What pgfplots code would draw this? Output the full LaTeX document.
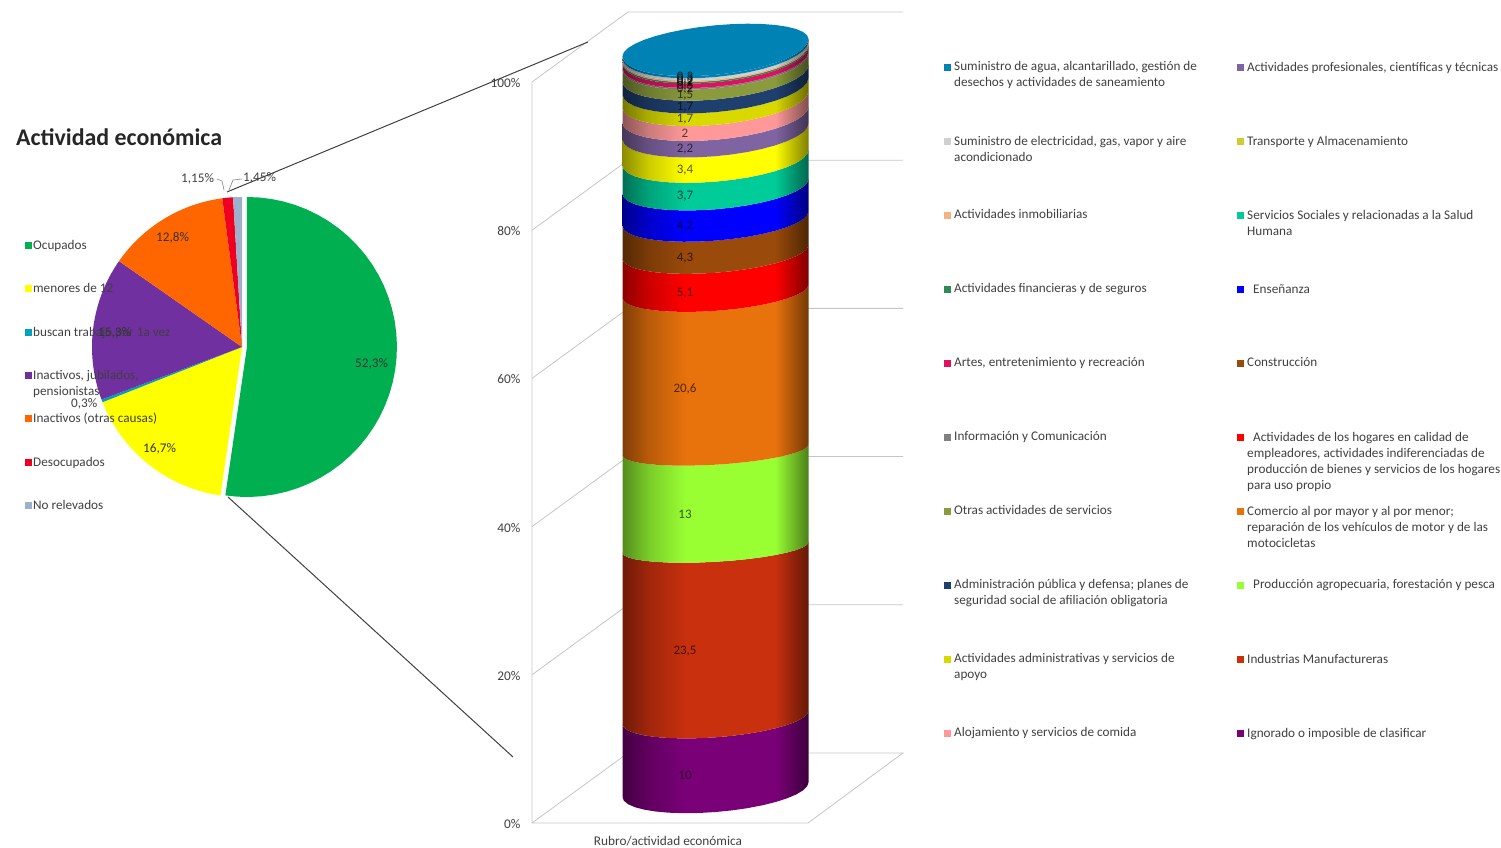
\documentclass[border=0pt]{standalone}
\usepackage{fontspec}
\setmainfont{Carlito}
\usepackage{pgfplots}
\usepackage{pgfplotstable}
\pgfplotsset{compat=1.18}
\definecolor{c0}{HTML}{7A0078}\definecolor{c1}{HTML}{C8300E}\definecolor{c2}{HTML}{99FF33}
\definecolor{c3}{HTML}{E8720C}\definecolor{c4}{HTML}{FF0000}\definecolor{c5}{HTML}{9A4A0A}
\definecolor{c6}{HTML}{0000FF}\definecolor{c7}{HTML}{00CC99}\definecolor{c8}{HTML}{FFFF00}
\definecolor{c9}{HTML}{8064A2}\definecolor{c10}{HTML}{FF9999}\definecolor{c11}{HTML}{D9D900}
\definecolor{c12}{HTML}{1F3F6F}\definecolor{c13}{HTML}{8A9A3C}\definecolor{c14}{HTML}{808080}
\definecolor{c15}{HTML}{E0115F}\definecolor{c16}{HTML}{2E8B57}\definecolor{c17}{HTML}{F4B183}
\definecolor{c18}{HTML}{D0D0D0}\definecolor{c19}{HTML}{0082B4}
\definecolor{p0}{HTML}{00B050}\definecolor{p1}{HTML}{FFFF00}\definecolor{p2}{HTML}{00A0C0}
\definecolor{p3}{HTML}{7030A0}\definecolor{p4}{HTML}{FF6600}\definecolor{p5}{HTML}{F00020}
\definecolor{p6}{HTML}{9DB0CC}
\definecolor{txt}{HTML}{404040}
\colorlet{cband}{red}
\pgfdeclarehorizontalshading[cband]{cyl}{100bp}{color(0bp)=(cband!55!black); color(25bp)=(cband!55!black); color(32bp)=(cband!80!black); color(42bp)=(cband); color(66bp)=(cband); color(75bp)=(cband!50!black); color(100bp)=(cband!50!black)}
% ---- data: stacked column (bottom to top)
\pgfplotstableread{
val lab
10   10
23.5 23,5
13   13
20.6 20,6
5.1  5,1
4.3  4,3
4.2  4,2
3.7  3,7
3.4  3,4
2.2  2,2
2    2
1.7  1,7
1.7  1,7
1.5  1,5
0.2  0,2
0.6  0,6
0.2  0,2
0.2  0,2
0.3  0,3
0.3  0,3
}\bands
\pgfplotstablecreatecol[create col/expr accum={\pgfmathaccuma+\thisrow{val}}{0}]{top}\bands
\pgfplotstablecreatecol[create col/expr={\thisrow{top}-\thisrow{val}}]{base}\bands
\pgfplotstablecreatecol[create col/expr={\thisrow{top}-0.5*\thisrow{val}}]{mid}\bands
% ---- data: pie, clockwise from the top
\pgfplotstableread{
val
52.3
16.7
0.3
15.4
13.2
1.15
0.95
}\slices
\pgfplotstablecreatecol[create col/expr accum={\pgfmathaccuma+\thisrow{val}}{0}]{top}\slices
\pgfplotstablecreatecol[create col/expr={\thisrow{top}-\thisrow{val}}]{base}\slices
% ---- shape outlines
\pgfplotstableset{
 create on use/t/.style={create col/expr={\pgfplotstablerow<=18 ? 10*\pgfplotstablerow : 10*(\pgfplotstablerow-1)}},
 create on use/up/.style={create col/expr={\pgfplotstablerow<=18 ? 1 : 0}},
 create on use/r/.style={create col/expr={\pgfplotstablerow==0 ? 0 : 1}},
 create on use/f/.style={create col/expr={\pgfplotstablerow==0 ? 0 : (\pgfplotstablerow-1)/40}},
}
\pgfplotstablenew[columns={t,up}]{38}\outline
\pgfplotstablenew[columns={r,f}]{42}\sweep
\newcommand\mk[3]{\addplot[only marks,mark=square*,mark size=3pt,mark options={fill=#1,draw=#1}] coordinates {(#2,#3)};}
\newcommand\tx[4][]{\node[anchor=north west,inner sep=0pt,align=left,text=txt,font=\fontsize{13.2}{16}\selectfont,#1] at (axis cs:#2,#3-5) {#4};}
\begin{document}
\begin{tikzpicture}
\useasboundingbox (0pt,0pt) rectangle (1501pt,848pt);
% ---------------- cylinder
\begin{axis}[
  at={(532pt,25pt)},anchor=south west,scale only axis,width=371pt,height=811pt,
  xmin=532,xmax=903,ymin=0,ymax=109.447,clip=false,
  axis line style={draw=none},major tick style={draw=none},
  xtick={668},xticklabels={Rubro/actividad económica},
  ytick={0,20,40,60,80,100},yticklabels={0\%,20\%,40\%,60\%,80\%,100\%},
  tick label style={font=\fontsize{13.3}{15}\selectfont,text=txt},
  yticklabel style={xshift=-8pt,yshift=-1pt},
  xticklabel style={yshift=-10pt},
]
\addplot[gray!45,line width=.8pt] coordinates {(532,100)(532,0)(808,0)(903,9.45)(628,9.45)(532,0)};
\addplot[gray!45,line width=.8pt] coordinates {(532,20)(628,29.45)(903,29.45)};
\addplot[gray!45,line width=.8pt] coordinates {(532,40)(628,49.45)(903,49.45)};
\addplot[gray!45,line width=.8pt] coordinates {(532,60)(628,69.45)(903,69.45)};
\addplot[gray!45,line width=.8pt] coordinates {(532,80)(628,89.45)(903,89.45)};
\addplot[gray!45,line width=.8pt] coordinates {(532,100)(628,109.45)(903,109.45)};
\pgfplotsforeachungrouped \i in {0,...,19}{
  \pgfplotstablegetelem{\i}{top}\of\bands\let\ytop\pgfplotsretval
  \pgfplotstablegetelem{\i}{base}\of\bands\let\ybase\pgfplotsretval
  \pgfmathsetmacro\bt{1.754+0.0323*abs(\ytop-39)}
  \pgfmathsetmacro\kt{0.675+0.00806*abs(\ytop-39)}
  \pgfmathsetmacro\bb{1.754+0.0323*abs(\ybase-39)}
  \pgfmathsetmacro\kb{0.675+0.00806*abs(\ybase-39)}
  \edef\tmp{\noexpand\addplot[draw=none,/utils/exec={\noexpand\colorlet{cband}{c\i}},shade,shading=cyl]
    table[x expr={715.5+93*cos(\noexpand\thisrow{t})},
          y expr={1.48+\noexpand\thisrow{up}*(1.008*\ytop+\bt*(1-abs(sin(\noexpand\thisrow{t})))+\kt*cos(\noexpand\thisrow{t}))+(1-\noexpand\thisrow{up})*(1.008*\ybase+\bb*(1-abs(sin(\noexpand\thisrow{t})))+\kb*cos(\noexpand\thisrow{t}))}]
    {\noexpand\outline} -- cycle;}
  \tmp
}
\pgfplotstablegetelem{19}{top}\of\bands\let\ytop\pgfplotsretval
\pgfmathsetmacro\bt{1.754+0.0323*abs(\ytop-39)}
\pgfmathsetmacro\kt{0.675+0.00806*abs(\ytop-39)}
\edef\tmp{\noexpand\addplot[draw=none,fill=c19]
  table[x expr={715.5+93*cos(\noexpand\thisrow{t})},
        y expr={1.48+1.008*\ytop+\bt+\kt*cos(\noexpand\thisrow{t})+(\noexpand\thisrow{t}<=180 ? 3.0 : \bt)*sin(\noexpand\thisrow{t})}]
  {\noexpand\outline} -- cycle;}
\tmp
\addplot[only marks,mark=none,point meta=explicit symbolic,nodes near coords,
  nodes near coords align={anchor=center},
  every node near coord/.append style={anchor=center,inner sep=0pt,font=\fontsize{13}{15}\selectfont,text=black,text opacity=.65}]
  table[x expr=685,y expr={1.33+1.008*\thisrow{mid}},meta=lab]{\bands};
\end{axis}
% ---------------- pie
\begin{axis}[
  at={(77pt,336pt)},anchor=south west,scale only axis,width=330pt,height=330pt,
  xmin=-1.1,xmax=1.1,ymin=-1.1,ymax=1.1,hide axis,clip=false]
\pgfplotsforeachungrouped \i in {0,...,6}{
  \pgfplotstablegetelem{\i}{top}\of\slices\let\ptop\pgfplotsretval
  \pgfplotstablegetelem{\i}{base}\of\slices\let\pbase\pgfplotsretval
  \ifnum\i=0 \def\dx{0.033}\else\def\dx{0}\fi
  \edef\tmp{\noexpand\addplot[draw=none,fill=p\i]
    table[x expr={\dx+\noexpand\thisrow{r}*cos(90-3.6*(\pbase+(\ptop-\pbase)*\noexpand\thisrow{f}))},
          y expr={\noexpand\thisrow{r}*sin(90-3.6*(\pbase+(\ptop-\pbase)*\noexpand\thisrow{f}))}]
    {\noexpand\sweep} -- cycle;}
  \tmp
}
\end{axis}
% ---------------- text, legends, connectors (picture pixels)
\begin{axis}[
  at={(0pt,0pt)},anchor=south west,scale only axis,width=1501pt,height=848pt,
  xmin=0,xmax=1501,ymin=0,ymax=848,y dir=reverse,hide axis,clip=false]
\addplot[color=txt,line width=1pt] coordinates {(227,192)(588,42)};
\addplot[color=txt,line width=1pt] coordinates {(228,497)(513,757)};
\addplot[gray,line width=.6pt] coordinates {(217,179)(222,181)(224,190)};
\addplot[gray,line width=.6pt] coordinates {(229,190)(233,180)(242,179)};
% title
\node[anchor=west,inner sep=0pt,font=\fontsize{23.9}{26}\selectfont\bfseries,text=black!85] at (axis cs:16,137) {Actividad económica};
% pie legend
\mk{p0}{28}{245}\mk{p1}{28}{288}\mk{p2}{28}{332}\mk{p3}{28}{375}\mk{p4}{28}{418}\mk{p5}{28}{462}\mk{p6}{28}{505}
\tx{33}{245}{Ocupados}
\tx{33}{288}{menores de 12}
\tx{33}{332}{buscan trabajo por 1a vez}
\tx{33}{375}{Inactivos, jubilados,\\pensionistas}
\tx{33}{418}{Inactivos (otras causas)}
\tx{33}{462}{Desocupados}
\tx{33}{505}{No relevados}
% pie labels
\tx[text=black!80]{355}{363}{52,3\%}
\tx[text=black!80]{143}{448}{16,7\%}
\tx[text=txt]{71}{403}{0,3\%}
\tx[text=black!80]{98}{332}{15,3\%}
\tx[text=black!80]{156}{237}{12,8\%}
\tx[text=txt]{181}{178}{1,15\%}
\tx[text=txt]{243}{177}{1,45\%}
% series legend, markers
\mk{c19}{947}{67}\mk{c18}{947}{141}\mk{c17}{947}{215}\mk{c16}{947}{289}\mk{c15}{947}{363}
\mk{c14}{947}{437}\mk{c13}{947}{511}\mk{c12}{947}{585}\mk{c11}{947}{659}\mk{c10}{947}{733}
\mk{c9}{1240}{67}\mk{c8!60!gray}{1240}{141}\mk{c7}{1240}{215}\mk{c6}{1240}{289}\mk{c5}{1240}{363}
\mk{c4}{1240}{437}\mk{c3}{1240}{511}\mk{c2}{1240}{585}\mk{c1}{1240}{659}\mk{c0}{1240}{733}
\tx{954}{66}{Suministro de agua, alcantarillado, gestión de\\desechos y actividades de saneamiento}
\tx{954}{141}{Suministro de electricidad, gas, vapor y aire\\acondicionado}
\tx{954}{214}{Actividades inmobiliarias}
\tx{954}{288}{Actividades financieras y de seguros}
\tx{954}{362}{Artes, entretenimiento y recreación}
\tx{954}{436}{Información y Comunicación}
\tx{954}{510}{Otras actividades de servicios}
\tx{954}{584}{Administración pública y defensa; planes de\\seguridad social de afiliación obligatoria}
\tx{954}{658}{Actividades administrativas y servicios de\\apoyo}
\tx{954}{732}{Alojamiento y servicios de comida}
\tx{1247}{67}{Actividades profesionales, científicas y técnicas}
\tx{1247}{141}{Transporte y Almacenamiento}
\tx{1247}{215}{Servicios Sociales y relacionadas a la Salud\\Humana}
\tx{1253}{289}{Enseñanza}
\tx{1247}{362}{Construcción}
\tx{1247}{437}{\hspace*{6pt}Actividades de los hogares en calidad de\\empleadores, actividades indiferenciadas de\\producción de bienes y servicios de los hogares\\para uso propio}
\tx{1247}{511}{Comercio al por mayor y al por menor;\\reparación de los vehículos de motor y de las\\motocicletas}
\tx{1253}{584}{Producción agropecuaria, forestación y pesca}
\tx{1247}{659}{Industrias Manufactureras}
\tx{1247}{733}{Ignorado o imposible de clasificar}
\end{axis}
\end{tikzpicture}
\end{document}
